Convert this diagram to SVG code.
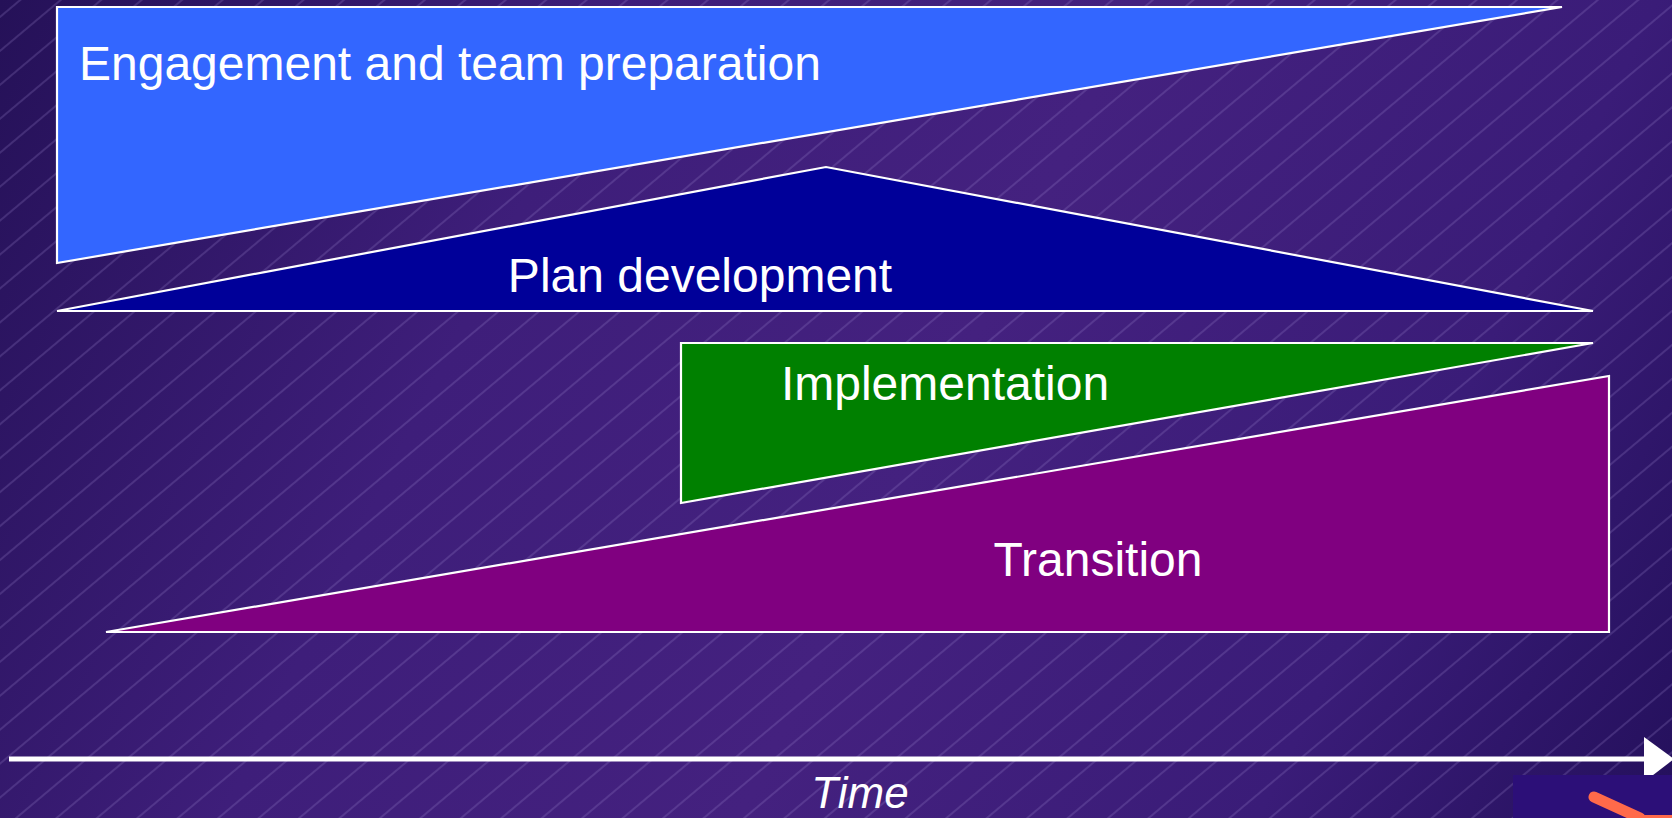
<svg xmlns="http://www.w3.org/2000/svg" width="1672" height="818" viewBox="0 0 1672 818">
  <defs>
    <linearGradient id="bg" x1="0" y1="0" x2="1672" y2="818" gradientUnits="userSpaceOnUse">
      <stop offset="0" stop-color="#251158"/>
      <stop offset="0.3" stop-color="#3e1e7a"/>
      <stop offset="0.55" stop-color="#44217f"/>
      <stop offset="0.8" stop-color="#3a1c78"/>
      <stop offset="1" stop-color="#24105c"/>
    </linearGradient>
    <pattern id="hatch" patternUnits="userSpaceOnUse" width="60" height="26" patternTransform="rotate(-40)">
      <line x1="0" y1="13" x2="60" y2="13" stroke="#9a86cc" stroke-width="0.8" stroke-opacity="0.6"/>
    </pattern>
  </defs>
  <style>
    .phase { stroke: #ffffff; stroke-width: 2.2; stroke-linejoin: miter; }
    .label { font-family: "Liberation Sans", Arial, sans-serif; font-size: 48px; fill: #ffffff; }
  </style>

  <rect width="1672" height="818" fill="url(#bg)"/>
  <rect width="1672" height="818" fill="url(#hatch)"/>

  <g id="engagement">
    <polygon class="phase" points="57,7 1562,7 57,263" fill="#3366ff"/>
    <text class="label" x="79" y="80">Engagement and team preparation</text>
  </g>

  <g id="plan-development">
    <polygon class="phase" points="57,311 826,167 1593,311" fill="#000099"/>
    <text class="label" x="700" y="292" text-anchor="middle">Plan development</text>
  </g>

  <g id="implementation">
    <polygon class="phase" points="681,343 1593,343 681,503" fill="#008000"/>
    <text class="label" x="945" y="400" text-anchor="middle">Implementation</text>
  </g>

  <g id="transition">
    <polygon class="phase" points="106,632 1609,376 1609,632" fill="#800080"/>
    <text class="label" x="1098" y="576" text-anchor="middle">Transition</text>
  </g>

  <g id="connectors">
    <line x1="9" y1="759" x2="1646" y2="759" stroke="#ffffff" stroke-width="5"/>
    <polygon points="1644,737 1674,759 1644,782" fill="#ffffff"/>
  </g>

  <g id="time-label">
    <text x="860" y="808" text-anchor="middle" font-family="Liberation Sans, Arial, sans-serif" font-size="44" font-style="italic" fill="#ffffff">Time</text>
  </g>

  <g id="corner-fragment">
    <rect x="1513" y="775" width="159" height="43" fill="#2c0f78"/>
    <path d="M1594,797 L1640,818" stroke="#ff6a4a" stroke-width="11" stroke-linecap="round" fill="none"/>
    <path d="M1640,818 L1672,818" stroke="#ff6a4a" stroke-width="6" fill="none"/>
  </g>
</svg>
